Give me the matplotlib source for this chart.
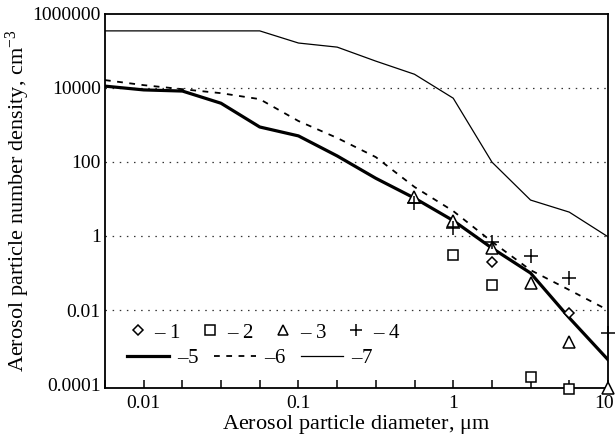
import matplotlib
matplotlib.use("Agg")
import matplotlib.pyplot as plt
from matplotlib.transforms import ScaledTranslation

plt.rcParams["font.family"] = ["Liberation Serif", "DejaVu Serif"]
plt.rcParams["mathtext.fontset"] = "custom"
plt.rcParams["mathtext.rm"] = "Liberation Serif"
plt.rcParams["mathtext.it"] = "Liberation Serif:italic"

# size-distribution curves (diameter in um, density in cm^-3)
d_grid = [0.00562, 0.01, 0.0178, 0.0316, 0.0562, 0.1, 0.178, 0.316,
          0.562, 1.0, 1.78, 3.16, 5.62, 10.0]
n_curve5 = [1.1e4, 8.7e3, 8.1e3, 3.8e3, 870, 500, 144, 36,
            10.5, 2.6, 0.47, 0.1, 0.0062, 4.6e-4]
n_curve6 = [1.6e4, 1.17e4, 9.1e3, 7.1e3, 4.9e3, 1.26e3, 440, 134,
            21, 4.7, 0.7, 0.12, 0.035, 0.01]
d_curve7 = [0.00562, 0.0562, 0.1, 0.178, 0.316, 0.562, 1.0, 1.78, 3.16, 5.62, 10.0]
n_curve7 = [3.4e5, 3.4e5, 1.6e5, 1.24e5, 5.2e4, 2.3e4, 5.2e3, 98, 9.3, 4.4, 0.95]

# measured points
d_pts = [0.562, 1.0, 1.78, 3.16, 5.62, 10.0]
n_set3 = [11.2, 2.5, 0.47, 0.054, 0.0014, 8e-5]
n_set4 = [7.8, 1.6, 0.69, 0.29, 0.074, 0.0024]
d_set2 = [1.0, 1.78, 3.16, 5.62]
n_set2 = [0.31, 0.048, 1.6e-4, 7.6e-5]
d_set1 = [1.78, 5.62]
n_set1 = [0.2, 0.0084]

xtick_vals = [10 ** (-2.25 + 0.25 * k) for k in range(14)]
xtick_text = {0.01: "0.01", 0.1: "0.1", 1.0: "1", 10.0: "10"}
ytick_vals = [1e-4, 1e-2, 1, 1e2, 1e4, 1e6]
ytick_text = ["0.0001", "0.01", "1", "100", "10000", "1000000"]
grid_vals = [1e-2, 1, 1e2, 1e4]

fig = plt.figure(figsize=(6.15, 4.43), dpi=100)
ax = fig.add_axes([0.1707, 0.1242, 0.8179, 0.8453])
ax.set_xscale("log")
ax.set_yscale("log")
ax.set_xlim(10 ** -2.25, 10)
ax.set_ylim(10 ** -4.1, 1e6)

for g in grid_vals:
    ax.axhline(g, color="#333333", lw=0.9, linestyle=(0, (1.2, 4.5)), zorder=1)

l5, = ax.plot(d_grid, n_curve5, color="k", lw=2.3, zorder=2)
l6, = ax.plot(d_grid, n_curve6, color="k", lw=1.3, dashes=(3.2, 3.6), zorder=2)
l7, = ax.plot(d_curve7, n_curve7, color="k", lw=0.9, zorder=2)

mk = dict(linestyle="none", color="k", mfc="white", mec="k", mew=1.1,
          zorder=4, clip_on=False)
m1, = ax.plot(d_set1, n_set1, marker="D", ms=5.2, **mk)
m2, = ax.plot(d_set2, n_set2, marker="s", ms=7.5, **mk)
m3, = ax.plot(d_pts, n_set3, marker="^", ms=8, **mk)
m4, = ax.plot(d_pts, n_set4, marker="+", ms=10, **mk)

ax.set_xticks(xtick_vals)
ax.set_xticklabels([xtick_text.get(round(v, 6), "") for v in xtick_vals])
ax.set_yticks(ytick_vals)
ax.set_yticklabels(ytick_text)
ax.minorticks_off()
ax.tick_params(axis="x", direction="in", length=6, width=1.1, labelsize=14, pad=5)
ax.tick_params(axis="y", length=0, labelsize=14, pad=3)
for s in ax.spines.values():
    s.set_linewidth(1.3)

# keep the "10" label inside the figure edge
last = ax.get_xticklabels()[-1]
last.set_transform(last.get_transform() + ScaledTranslation(-4 / 100, 0, fig.dpi_scale_trans))

ax.set_xlabel(r"Aerosol particle diameter, $\mathrm{\mu}$m", fontsize=16, labelpad=1)
ax.set_ylabel(r"Aerosol particle number density, cm$^{-3}$", fontsize=16, labelpad=0)

leg1 = ax.legend([m1, m2, m3, m4],
                 [r"– $\mathit{1}$", r"– $\mathit{2}$", r"– $\mathit{3}$", r"– $\mathit{4}$"],
                 ncol=4, loc="center left", bbox_to_anchor=(0.044, 0.147),
                 frameon=False, fontsize=15, handlelength=1.0, handletextpad=0.3,
                 columnspacing=0.9, borderpad=0, borderaxespad=0, markerscale=0.9)
ax.add_artist(leg1)
ax.legend([l5, l6, l7], [r"–$\mathit{5}$", r"–$\mathit{6}$", r"–$\mathit{7}$"],
          ncol=3, loc="center left", bbox_to_anchor=(0.044, 0.08),
          frameon=False, fontsize=15, handlelength=2.0, handletextpad=0.4,
          columnspacing=0.7, borderpad=0, borderaxespad=0)

fig.savefig("out.png", dpi=100)
